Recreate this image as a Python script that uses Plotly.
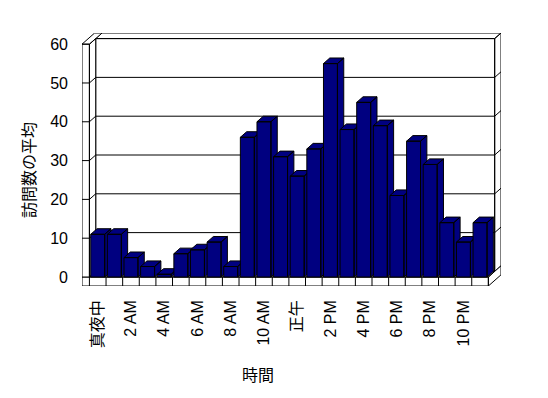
import plotly.graph_objects as go

# ---------------- data ----------------
hours = list(range(24))
visits = [11, 11, 5, 2.7, 0.7, 6, 7, 9, 2.7, 36, 40, 31, 26, 33,
          55, 38, 45, 39, 21, 35, 29, 14, 9, 14]
x_tick_pos = [0, 2, 4, 6, 8, 10, 12, 14, 16, 18, 20, 22]
x_tick_labels = ["真夜中", "2 AM", "4 AM", "6 AM", "8 AM", "10 AM", "正午",
                 "2 PM", "4 PM", "6 PM", "8 PM", "10 PM"]
y_ticks = [0, 10, 20, 30, 40, 50, 60]
x_title = "時間"
y_title = "訪問数の平均"

# ---------------- style / geometry ----------------
NAVY = "#000080"
FONT = "Liberation Sans, Noto Sans CJK JP, sans-serif"
HALF = 0.42      # half bar width (category units)
DX, DY = 0.38, 1.44   # oblique depth offset per depth layer (data units)
WALL = 0.446     # left wall thickness (category units)
FLOOR = 2.32     # floor thickness (value units)
XL = hours[0] - 0.5
XR = hours[-1] + 0.5
YTOP = y_ticks[-1]

PAGE = 8  # default body margin of the html page
W, H = 548 - PAGE, 398 - PAGE
ML, MT = 82 - PAGE, 33 - PAGE
PW, PH = 419, 253
MR = W - ML - PW
MB = H - MT - PH


def P(x, y, z):
    return (x + z * DX, y + z * DY)


fig = go.Figure()


def polys(list_of_pts, fill, line_color="black", width=1):
    xs, ys = [], []
    for pts in list_of_pts:
        for p in pts + [pts[0]]:
            xs.append(p[0])
            ys.append(p[1])
        xs.append(None)
        ys.append(None)
    fig.add_trace(go.Scatter(x=xs, y=ys, mode="lines", fill="toself",
                             fillcolor=fill,
                             line=dict(color=line_color, width=width),
                             hoverinfo="skip", showlegend=False))


def segs(list_of_segs, color="black", width=1):
    xs, ys = [], []
    for a, b in list_of_segs:
        xs += [a[0], b[0], None]
        ys += [a[1], b[1], None]
    fig.add_trace(go.Scatter(x=xs, y=ys, mode="lines",
                             line=dict(color=color, width=width),
                             hoverinfo="skip", showlegend=False))


# back wall (z 1..2)
polys([
    [P(XL, 0, 1), P(XR, 0, 1), P(XR, YTOP, 1), P(XL, YTOP, 1)],          # front face
    [P(XL, YTOP, 1), P(XR, YTOP, 1), P(XR, YTOP, 2), P(XL, YTOP, 2)],    # top face
    [P(XR, 0, 1), P(XR, 0, 2), P(XR, YTOP, 2), P(XR, YTOP, 1)],          # right end
], "white")

# floor (z 0..2)
polys([
    [P(XL - WALL, -FLOOR, 0), P(XR, -FLOOR, 0), P(XR, 0, 0), P(XL - WALL, 0, 0)],
    [P(XL, 0, 0), P(XR, 0, 0), P(XR, 0, 1), P(XL, 0, 1)],
    [P(XR, -FLOOR, 0), P(XR, -FLOOR, 2), P(XR, 0, 2), P(XR, 0, 0)],
], "white")

# left wall
polys([
    [P(XL - WALL, 0, 0), P(XL, 0, 0), P(XL, YTOP, 0), P(XL - WALL, YTOP, 0)],
    [P(XL - WALL, YTOP, 0), P(XL, YTOP, 0), P(XL, YTOP, 2), P(XL - WALL, YTOP, 2)],
    [P(XL, 0, 0), P(XL, 0, 1), P(XL, YTOP, 1), P(XL, YTOP, 0)],
], "white")

# gridlines and tick marks
g = []
for v in y_ticks[1:-1]:
    g.append((P(XL, v, 1), P(XR, v, 1)))          # back wall
    g.append((P(XL, v, 0), P(XL, v, 1)))          # left wall inner face
    g.append((P(XR, v, 1), P(XR, v, 2)))          # back wall right end
    g.append((P(XL - WALL, v, 0), P(XL, v, 0)))   # left wall front face
for k in range(len(hours)):
    xb = hours[k] - 0.5
    g.append((P(xb, -FLOOR, 0), P(xb, 0, 0)))     # floor dividers
segs(g)

# bars, left to right
for h, v in zip(hours, visits):
    a, b = h - HALF, h + HALF
    polys([
        [P(a, 0, 0), P(b, 0, 0), P(b, v, 0), P(a, v, 0)],
        [P(a, v, 0), P(b, v, 0), P(b, v, 1), P(a, v, 1)],
        [P(b, 0, 0), P(b, 0, 1), P(b, v, 1), P(b, v, 0)],
    ], NAVY)

fig.update_layout(
    width=W, height=H,
    margin=dict(l=ML, r=MR, t=MT, b=MB, pad=0),
    paper_bgcolor="white", plot_bgcolor="white",
    showlegend=False,
    font=dict(family=FONT, size=16, color="black"),
    xaxis=dict(range=[XL - WALL, XR + 2 * DX], tickmode="array",
               tickvals=x_tick_pos, ticktext=x_tick_labels, tickangle=-90,
               showgrid=False, zeroline=False, showline=False, ticks="",
               ticklabelstandoff=10, tickfont=dict(size=16, family=FONT),
               fixedrange=True),
    yaxis=dict(range=[-FLOOR, YTOP + 2 * DY], tickmode="array",
               tickvals=y_ticks, showgrid=False, zeroline=False,
               showline=False, ticks="", ticklabelstandoff=13,
               tickfont=dict(size=16, family=FONT), fixedrange=True),
    annotations=[
        dict(text=x_title, xref="paper", yref="paper",
             x=(258 - PAGE - ML) / PW, y=(H - MB - (375 - PAGE)) / PH,
             xanchor="center", yanchor="middle", showarrow=False,
             font=dict(size=16, family=FONT)),
        dict(text=y_title, xref="paper", yref="paper",
             x=(29 - PAGE - ML) / PW, y=(H - MB - (170 - PAGE)) / PH,
             textangle=-90,
             xanchor="center", yanchor="middle", showarrow=False,
             font=dict(size=16, family=FONT)),
    ],
)

fig.write_html("out.html")
